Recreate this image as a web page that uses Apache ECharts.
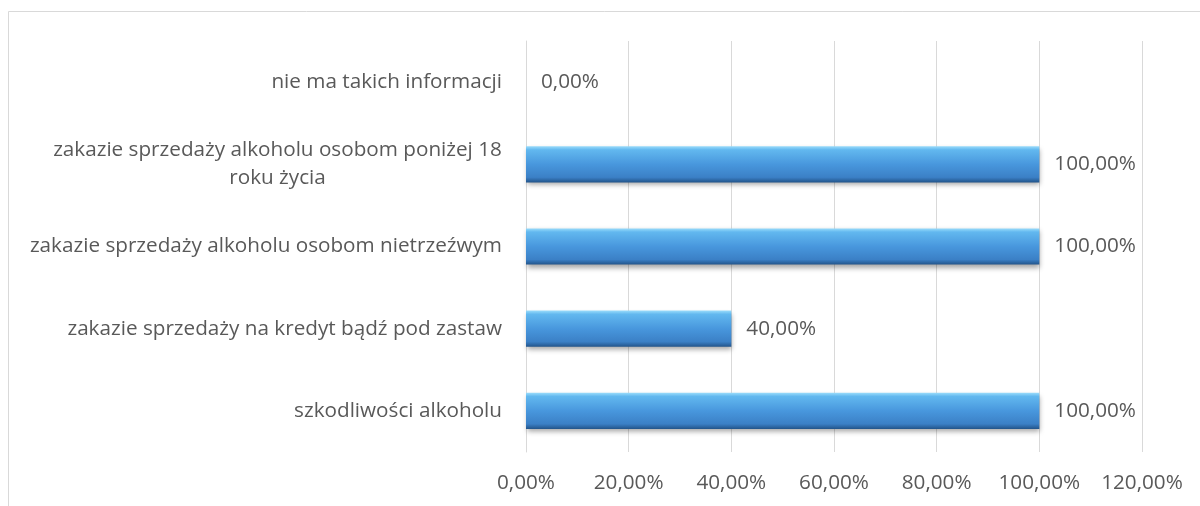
<!DOCTYPE html>
<html>
<head>
<meta charset="utf-8">
<script src="https://cdn.jsdelivr.net/npm/echarts@6/dist/echarts.min.js"></script>
<style>html,body{margin:0;padding:0;background:#fff}#c{width:1200px;height:506px}</style>
</head>
<body>
<div id="c"></div>
<script>
// Data (bottom to top, as drawn by a category y-axis)
const categories = [
  'szkodliwości alkoholu',
  'zakazie sprzedaży na kredyt bądź pod zastaw',
  'zakazie sprzedaży alkoholu osobom nietrzeźwym',
  'zakazie sprzedaży alkoholu osobom poniżej 18\nroku życia',
  'nie ma takich informacji'
];
const values = [100, 40, 100, 100, 0];
const xTicks = [0, 20, 40, 60, 80, 100, 120];

const FONT = '"Open Sans", sans-serif';
const FS = 20.7;
const TXT = '#595959';

function fmtPct(v) { return v.toFixed(2).replace('.', ',') + '%'; }

const ctx = document.createElement('canvas').getContext('2d');
ctx.font = FS + 'px ' + FONT;
function tw(s) { return Math.ceil(ctx.measureText(s).width); }

const chart = echarts.init(document.getElementById('c'), null, { renderer: 'canvas' });
chart.setOption({
  animation: false,
  backgroundColor: '#fff',
  graphic: [{
    type: 'rect', silent: true, z: -10,
    shape: { x: 8.5, y: 11.5, width: 1400, height: 800 },
    style: { fill: 'none', stroke: '#d9d9d9', lineWidth: 1 }
  }],
  grid: { left: 526, right: 58, top: 41, bottom: 54, containLabel: false },
  xAxis: {
    type: 'value', min: xTicks[0], max: xTicks[xTicks.length - 1], interval: 20,
    axisLine: { show: false }, axisTick: { show: false },
    splitLine: { show: true, lineStyle: { color: '#d9d9d9', width: 1 } },
    axisLabel: { color: TXT, fontFamily: FONT, fontSize: FS, margin: 21, formatter: fmtPct }
  },
  yAxis: {
    type: 'category', data: categories,
    axisLine: { show: true, lineStyle: { color: '#d9d9d9' } },
    axisTick: { show: false },
    splitLine: { show: false },
    axisLabel: {
      color: TXT, fontFamily: FONT, fontSize: FS, margin: 24, lineHeight: 28,
      formatter: function (v) {
        const lines = v.split('\n');
        if (lines.length === 1) return v;
        return lines.map(l => '{c|' + l + '}').join('\n');
      },
      rich: {
        c: { color: TXT, fontFamily: FONT, fontSize: FS, lineHeight: 28, align: 'center',
             width: tw('zakazie sprzedaży alkoholu osobom poniżej 18') }
      }
    }
  },
  series: [{
    type: 'bar',
    data: values,
    barWidth: '44%',
    itemStyle: {
      color: {
        type: 'linear', x: 0, y: 0, x2: 0, y2: 1,
        colorStops: [
          { offset: 0, color: '#9adcfb' },
          { offset: 0.1, color: '#62b8ef' },
          { offset: 0.5, color: '#4897dd' },
          { offset: 0.86, color: '#3b80c6' },
          { offset: 1, color: '#22548a' }
        ]
      },
      shadowColor: 'rgba(0,0,0,0.35)', shadowBlur: 5, shadowOffsetX: 1, shadowOffsetY: 3
    },
    label: {
      show: true, position: 'right', distance: 15,
      color: TXT, fontFamily: FONT, fontSize: FS,
      formatter: p => fmtPct(p.value)
    }
  }]
});
</script>
</body>
</html>
